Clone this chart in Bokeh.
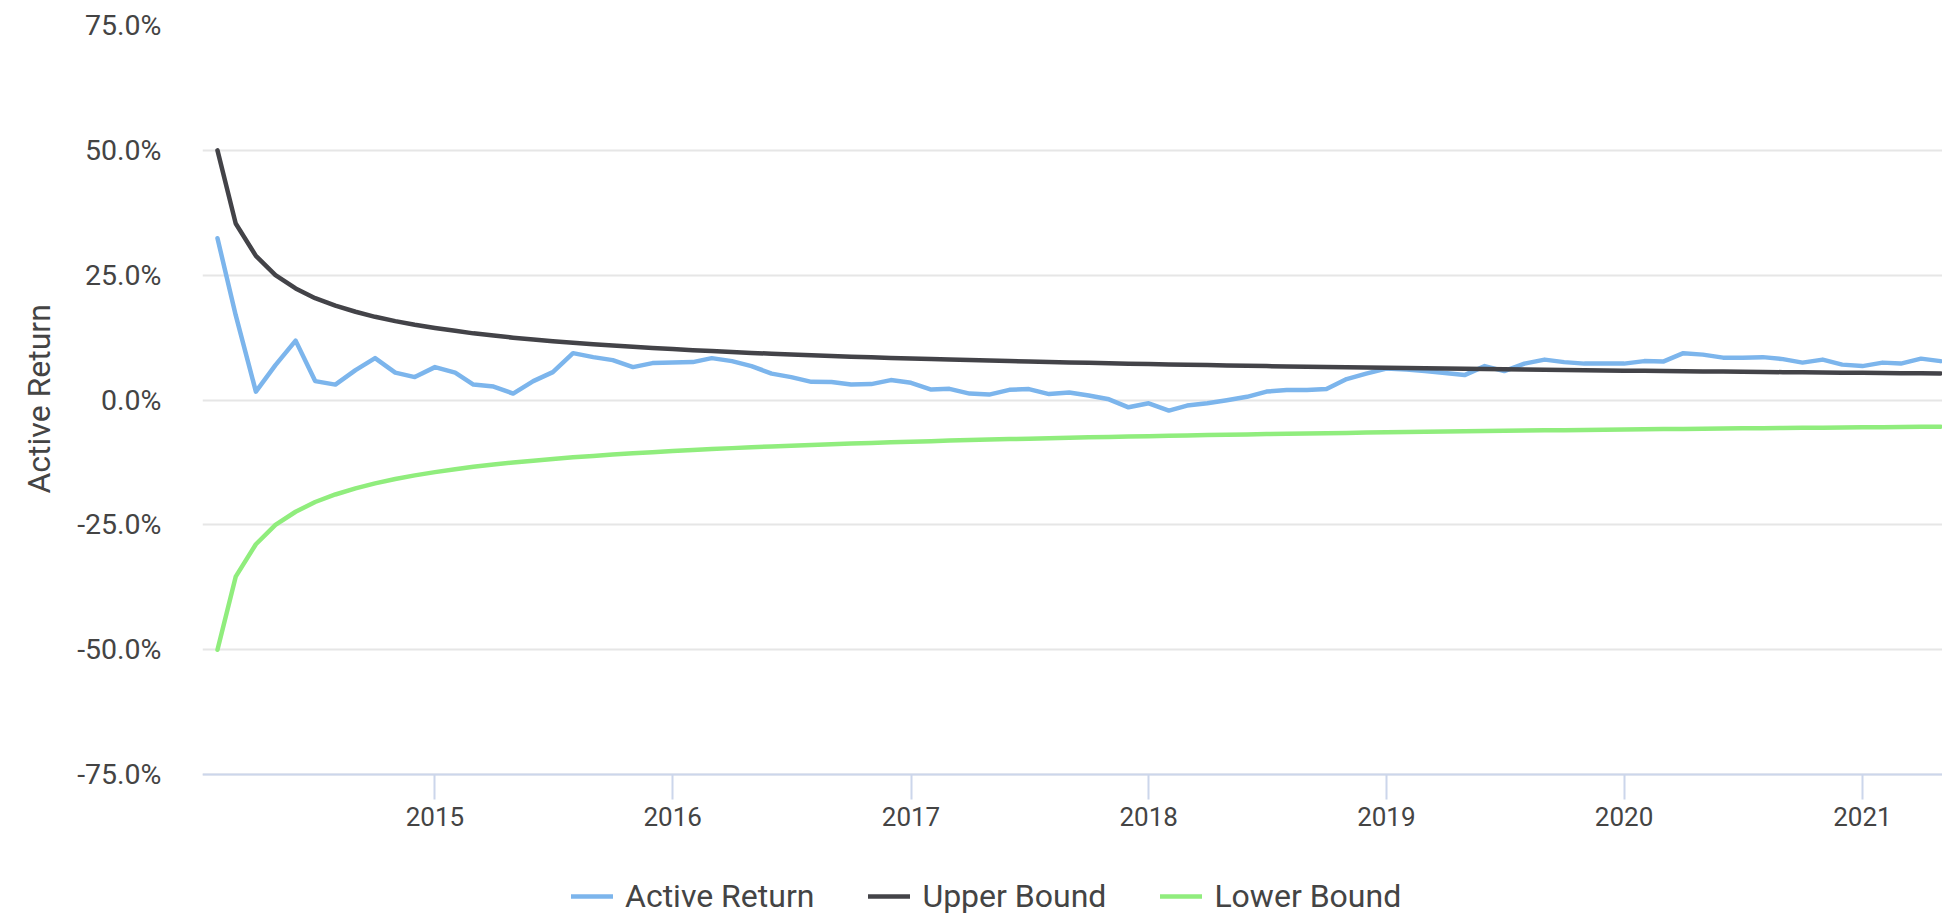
import pandas as pd
from bokeh.plotting import figure
from bokeh.models import (Range1d, FixedTicker, PrintfTickFormatter, DatetimeTickFormatter,
                          Legend, LegendItem, Title)
from bokeh.embed import file_html
from bokeh.resources import INLINE

# ---------------- data ----------------
start_month = "2014-02-01"
n_months = 88
dates = pd.date_range(start_month, periods=n_months, freq="MS")

active_return = [32.4, 17.0, 1.7, 7.0, 11.9, 3.8, 3.1, 6.0, 8.4, 5.5,
                 4.6, 6.6, 5.5, 3.1, 2.7, 1.3, 3.8, 5.6, 9.4, 8.6,
                 8.0, 6.6, 7.4, 7.5, 7.6, 8.4, 7.8, 6.8, 5.3, 4.6,
                 3.65, 3.6, 3.1, 3.2, 4.0, 3.45, 2.1, 2.25, 1.3, 1.1,
                 2.05, 2.2, 1.2, 1.5, 0.9, 0.15, -1.45, -0.65, -2.1, -1.1,
                 -0.65, -0.05, 0.65, 1.7, 2.0, 2.0, 2.2, 4.2, 5.3, 6.3,
                 6.1, 5.8, 5.4, 5.0, 6.8, 5.8, 7.3, 8.1, 7.6, 7.3,
                 7.3, 7.3, 7.8, 7.7, 9.4, 9.1, 8.5, 8.5, 8.6, 8.2,
                 7.5, 8.1, 7.1, 6.8, 7.5, 7.3, 8.3, 7.8]

upper_bound = [50.0, 35.36, 28.87, 25.0, 22.36, 20.41, 18.9, 17.68, 16.67, 15.81,
               15.08, 14.43, 13.87, 13.36, 12.91, 12.5, 12.13, 11.79, 11.47, 11.18,
               10.91, 10.66, 10.43, 10.21, 10.0, 9.81, 9.62, 9.45, 9.28, 9.13,
               8.98, 8.84, 8.7, 8.57, 8.45, 8.33, 8.22, 8.11, 8.01, 7.91,
               7.81, 7.72, 7.62, 7.54, 7.45, 7.37, 7.29, 7.22, 7.14, 7.07,
               7.0, 6.93, 6.87, 6.8, 6.74, 6.68, 6.62, 6.57, 6.51, 6.45,
               6.4, 6.35, 6.3, 6.25, 6.2, 6.15, 6.11, 6.06, 6.02, 5.98,
               5.93, 5.89, 5.85, 5.81, 5.77, 5.74, 5.7, 5.66, 5.63, 5.59,
               5.56, 5.52, 5.49, 5.46, 5.42, 5.39, 5.36, 5.33]

lower_bound = [-50.0, -35.36, -28.87, -25.0, -22.36, -20.41, -18.9, -17.68, -16.67, -15.81,
               -15.08, -14.43, -13.87, -13.36, -12.91, -12.5, -12.13, -11.79, -11.47, -11.18,
               -10.91, -10.66, -10.43, -10.21, -10.0, -9.81, -9.62, -9.45, -9.28, -9.13,
               -8.98, -8.84, -8.7, -8.57, -8.45, -8.33, -8.22, -8.11, -8.01, -7.91,
               -7.81, -7.72, -7.62, -7.54, -7.45, -7.37, -7.29, -7.22, -7.14, -7.07,
               -7.0, -6.93, -6.87, -6.8, -6.74, -6.68, -6.62, -6.57, -6.51, -6.45,
               -6.4, -6.35, -6.3, -6.25, -6.2, -6.15, -6.11, -6.06, -6.02, -5.98,
               -5.93, -5.89, -5.85, -5.81, -5.77, -5.74, -5.7, -5.66, -5.63, -5.59,
               -5.56, -5.52, -5.49, -5.46, -5.42, -5.39, -5.36, -5.33]

y_ticks = [-75, -50, -25, 0, 25, 50, 75]
x_tick_years = [2015, 2016, 2017, 2018, 2019, 2020, 2021]
series_names = ["Active Return", "Upper Bound", "Lower Bound"]
series_colors = ["#7cb5ec", "#434348", "#90ed7d"]

# ---------------- figure ----------------
FONT = "Roboto"
TEXT_COLOR = "#444444"

x_start = pd.Timestamp("2014-01-09")
x_end = pd.Timestamp("2021-05-04")

# The frame runs to the bottom of the page; the value axis spans -75..75 in the
# upper part and the x axis sits at -75, leaving room for the legend beneath it.
Y_BOTTOM_PAD = -103.4

p = figure(width=1942, height=916, x_axis_type="datetime",
           x_range=Range1d(x_start, x_end), y_range=Range1d(Y_BOTTOM_PAD, 75),
           output_backend="svg", toolbar_location=None)
p.min_border_left = 202
p.min_border_top = 25
p.min_border_right = 0
p.min_border_bottom = 0
p.outline_line_color = None
p.background_fill_color = "white"
p.border_fill_color = "white"

p.xgrid.grid_line_color = None
p.ygrid.grid_line_color = "#e6e6e6"
p.ygrid.grid_line_width = 2

yax = p.yaxis[0]
yax.ticker = FixedTicker(ticks=y_ticks)
yax.formatter = PrintfTickFormatter(format="%.1f%%")
yax.axis_line_color = None
yax.major_tick_line_color = None
yax.minor_tick_line_color = None
yax.major_label_text_font = FONT
yax.major_label_text_font_size = "28.5px"
yax.major_label_text_color = TEXT_COLOR
yax.major_label_standoff = 35

ytitle = Title(text="Active Return", align="left", offset=423, standoff=33,
               text_font=FONT, text_font_size="32px", text_font_style="normal",
               text_color=TEXT_COLOR)
p.add_layout(ytitle, "left")

xax = p.xaxis[0]
tick_ms = [pd.Timestamp(f"{y}-01-01").value / 1e6 for y in x_tick_years]
xax.ticker = FixedTicker(ticks=tick_ms)
xax.formatter = DatetimeTickFormatter(years="%Y", months="%Y", days="%Y", hours="%Y",
                                      minutes="%Y", seconds="%Y", milliseconds="%Y",
                                      microseconds="%Y", hourmin="%Y", minsec="%Y")
xax.fixed_location = -75
xax.axis_line_color = "#ccd6eb"
xax.axis_line_width = 2
xax.major_tick_line_color = "#ccd6eb"
xax.major_tick_line_width = 2
xax.major_tick_out = 25
xax.major_tick_in = 0
xax.minor_tick_line_color = None
xax.major_label_text_font = FONT
xax.major_label_text_font_size = "26px"
xax.major_label_text_color = TEXT_COLOR
xax.major_label_standoff = 7

series = [active_return, upper_bound, lower_bound]
items = []
for name, color, vals in zip(series_names, series_colors, series):
    r = p.line(x=list(dates), y=vals, line_color=color, line_width=4.5,
               line_join="round", line_cap="round")
    items.append(LegendItem(label=name, renderers=[r]))

legend = Legend(items=items, orientation="horizontal", location=(369, 1),
                glyph_width=42, glyph_height=30, label_standoff=12, spacing=54,
                padding=0, margin=0, border_line_color=None,
                background_fill_alpha=0,
                label_text_font=FONT, label_text_font_size="32px",
                label_text_color=TEXT_COLOR)
p.add_layout(legend, "center")

open("out.html", "w").write(file_html(p, INLINE))
